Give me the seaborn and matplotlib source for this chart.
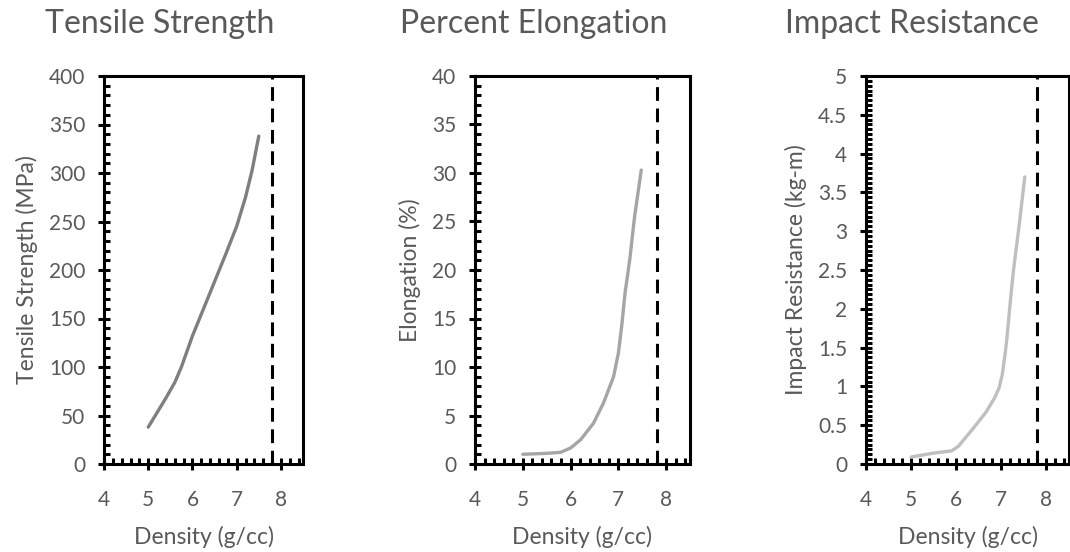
import matplotlib
matplotlib.use("Agg")
import matplotlib.pyplot as plt
import seaborn as sns
import pandas as pd
from matplotlib.ticker import MultipleLocator, FuncFormatter

# ---- data ----
ts_density = [5.0, 5.2, 5.4, 5.6, 5.75, 6.0, 6.25, 6.5, 6.75, 7.0, 7.2, 7.35, 7.5]
ts_values = [38, 53, 68, 84, 100, 132, 160, 188, 216, 245, 275, 303, 338]

el_density = [5.0, 5.5, 5.79, 6.0, 6.21, 6.48, 6.69, 6.9, 7.0, 7.07, 7.14, 7.24, 7.34, 7.48]
el_values = [1.0, 1.1, 1.2, 1.65, 2.5, 4.2, 6.3, 9.0, 11.4, 14.2, 17.6, 21.1, 25.5, 30.3]

ir_density = [5.0, 5.5, 5.9, 6.05, 6.35, 6.65, 6.85, 6.95, 7.02, 7.08, 7.12, 7.2, 7.27, 7.4, 7.52]
ir_values = [0.09, 0.14, 0.17, 0.23, 0.44, 0.66, 0.85, 0.98, 1.15, 1.4, 1.6, 2.1, 2.5, 3.1, 3.7]

titles = ["Tensile Strength", "Percent Elongation", "Impact Resistance"]
ylabels = ["Tensile Strength (MPa)", "Elongation (%)", "Impact Resistance (kg-m)"]
xlabel = "Density (g/cc)"
ylims = [(0, 400), (0, 40), (0, 5)]
y_major = [50, 5, 0.5]
y_minor = [10, 1, 0.0625]
line_colors = ["#7f7f7f", "#a5a5a5", "#bfbfbf"]
limit_density = 7.8

sns.set_theme(style="white")
plt.rcParams['font.family'] = ['Lato', 'DejaVu Sans']

fig = plt.figure(figsize=(10.7, 5.52), dpi=100)
W, H = 1070, 552
boxes = [(104, 303), (475, 690), (866, 1069)]
top_px, bot_px = 76, 464
title_x = [160, 534, 912]

series = [(ts_density, ts_values), (el_density, el_values), (ir_density, ir_values)]
grey = "#595959"

for i in range(3):
    l, r = boxes[i]
    ax = fig.add_axes([l / W, 1 - bot_px / H, (r - l) / W, (bot_px - top_px) / H])
    df = pd.DataFrame({"Density": series[i][0], "Value": series[i][1]})
    sns.lineplot(data=df, x="Density", y="Value", ax=ax, color=line_colors[i],
                 linewidth=2.4, sort=False)
    ax.lines[-1].set_solid_joinstyle("round")
    ax.lines[-1].set_solid_capstyle("round")
    ax.axvline(limit_density, color="black", linewidth=2.2, linestyle=(0, (4.5, 2.5)))
    ax.set_xlim(4, 8.5)
    ax.set_ylim(*ylims[i])
    ax.xaxis.set_major_locator(MultipleLocator(1))
    ax.xaxis.set_minor_locator(MultipleLocator(0.2))
    ax.yaxis.set_major_locator(MultipleLocator(y_major[i]))
    ax.yaxis.set_minor_locator(MultipleLocator(y_minor[i]))
    ax.yaxis.set_major_formatter(FuncFormatter(lambda v, p: f"{v:g}"))
    ax.set_xticks([4, 5, 6, 7, 8])
    for s in ax.spines.values():
        s.set_color("black")
        s.set_linewidth(2.2)
        s.set_visible(True)
    ax.tick_params(which="major", direction="inout", length=9, width=2.2,
                   color="black", labelsize=15, labelcolor=grey,
                   bottom=True, left=True, top=False, right=False)
    ax.tick_params(axis="x", which="major", pad=14)
    ax.tick_params(axis="y", which="major", pad=9)
    ax.tick_params(which="minor", direction="in", length=4, width=2.2,
                   color="black", bottom=True, left=True, top=False, right=False)
    ax.set_xlabel(xlabel, fontsize=16.5, color=grey, labelpad=12)
    ax.set_ylabel(ylabels[i], fontsize=16.5, color=grey, labelpad=8)
    ax.grid(False)
    fig.text(title_x[i] / W, 1 - 33 / H, titles[i], ha="center", va="baseline",
             fontsize=23, color=grey)

fig.savefig("out.png", dpi=100)
